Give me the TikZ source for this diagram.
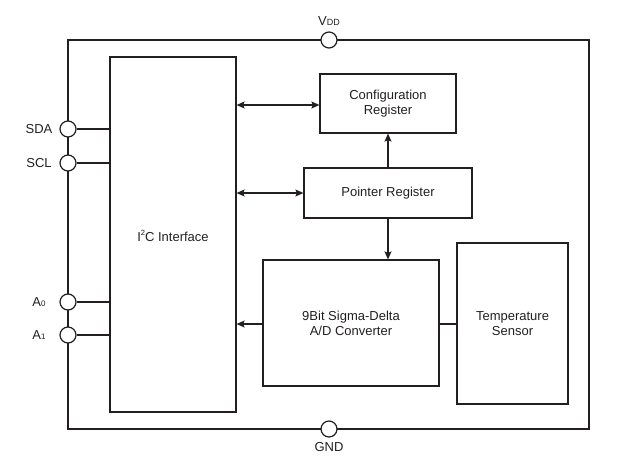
\documentclass[tikz,border=0pt]{standalone}
\usepackage{fontspec}
\setmainfont{Liberation Sans}
\usetikzlibrary{arrows.meta}
\definecolor{ink}{HTML}{231F20}
\begin{document}
\begin{tikzpicture}[x=1pt,y=-1pt,
  line width=1.2pt, draw=ink, text=ink,
  font=\fontsize{13}{15}\selectfont,
  blockbox/.style={draw, rectangle, inner sep=0pt, align=center},
  pin/.style={draw, circle, fill=white, minimum size=16pt, inner sep=0pt},
  lbl/.style={inner sep=0pt},
  tip/.style={-{Stealth[length=8pt,width=7pt,inset=1.5pt]}},
  tips/.style={{Stealth[length=8pt,width=7pt,inset=1.5pt]}-{Stealth[length=8pt,width=7pt,inset=1.5pt]}}]
\useasboundingbox (0,0) rectangle (620,469);
% chip outline
\node[blockbox, minimum width=521pt, minimum height=389pt] (chip) at (328.5,234.5) {};
% blocks
\node[blockbox, minimum width=126pt, minimum height=355pt] (i2c) at (173,234.5) {};
\node[lbl] (i2ct) at (173,236) {I\raisebox{0.75ex}{\fontsize{7.5}{8}\selectfont 2}C Interface};
\node[blockbox, minimum width=136pt, minimum height=59pt] (cfg) at (388,103.5) {Configuration\\Register};
\node[blockbox, minimum width=168pt, minimum height=50pt] (ptr) at (388,193) {Pointer Register};
\node[blockbox, minimum width=176pt, minimum height=126pt] (adc) at (351,323) {9Bit Sigma-Delta\\A/D Converter};
\node[blockbox, minimum width=111pt, minimum height=161pt] (tmp) at (512.5,323.5) {Temperature\\Sensor};
% pins
\node[pin] (vdd) at (329,40) {};
\node[pin] (gnd) at (329,429) {};
\node[pin] (sda) at (68,129) {};
\node[pin] (scl) at (68,163) {};
\node[pin] (a0) at (68,302) {};
\node[pin] (a1) at (68,335) {};
% pin labels
\node[lbl] (vddl) at (329,21) {V{\fontsize{9}{9}\selectfont DD}};
\node[lbl] (gndl) at (329,447) {GND};
\node[lbl] (sdal) at (39,129) {SDA};
\node[lbl] (scll) at (39,163) {SCL};
\node[lbl] (a0l) at (39,302) {A{\fontsize{8}{8}\selectfont 0}};
\node[lbl] (a1l) at (39,335) {A{\fontsize{8}{8}\selectfont 1}};
% pin connections
\draw (sda.east) -- (i2c.west |- sda);
\draw (scl.east) -- (i2c.west |- scl);
\draw (a0.east) -- (i2c.west |- a0);
\draw (a1.east) -- (i2c.west |- a1);
% arrows
\draw[tips] (i2c.east |- 0,105) coordinate (c1) -- (cfg.west |- c1);
\draw[tips] (i2c.east |- ptr) -- (ptr.west);
\draw[tip] (ptr.north) -- (cfg.south);
\draw[tip] (ptr.south) -- (adc.north -| ptr.south);
\draw[tip] (adc.west |- 0,324) coordinate (c2) -- (i2c.east |- c2);
\draw (adc.east |- c2) -- (tmp.west |- c2);
\end{tikzpicture}
\end{document}
